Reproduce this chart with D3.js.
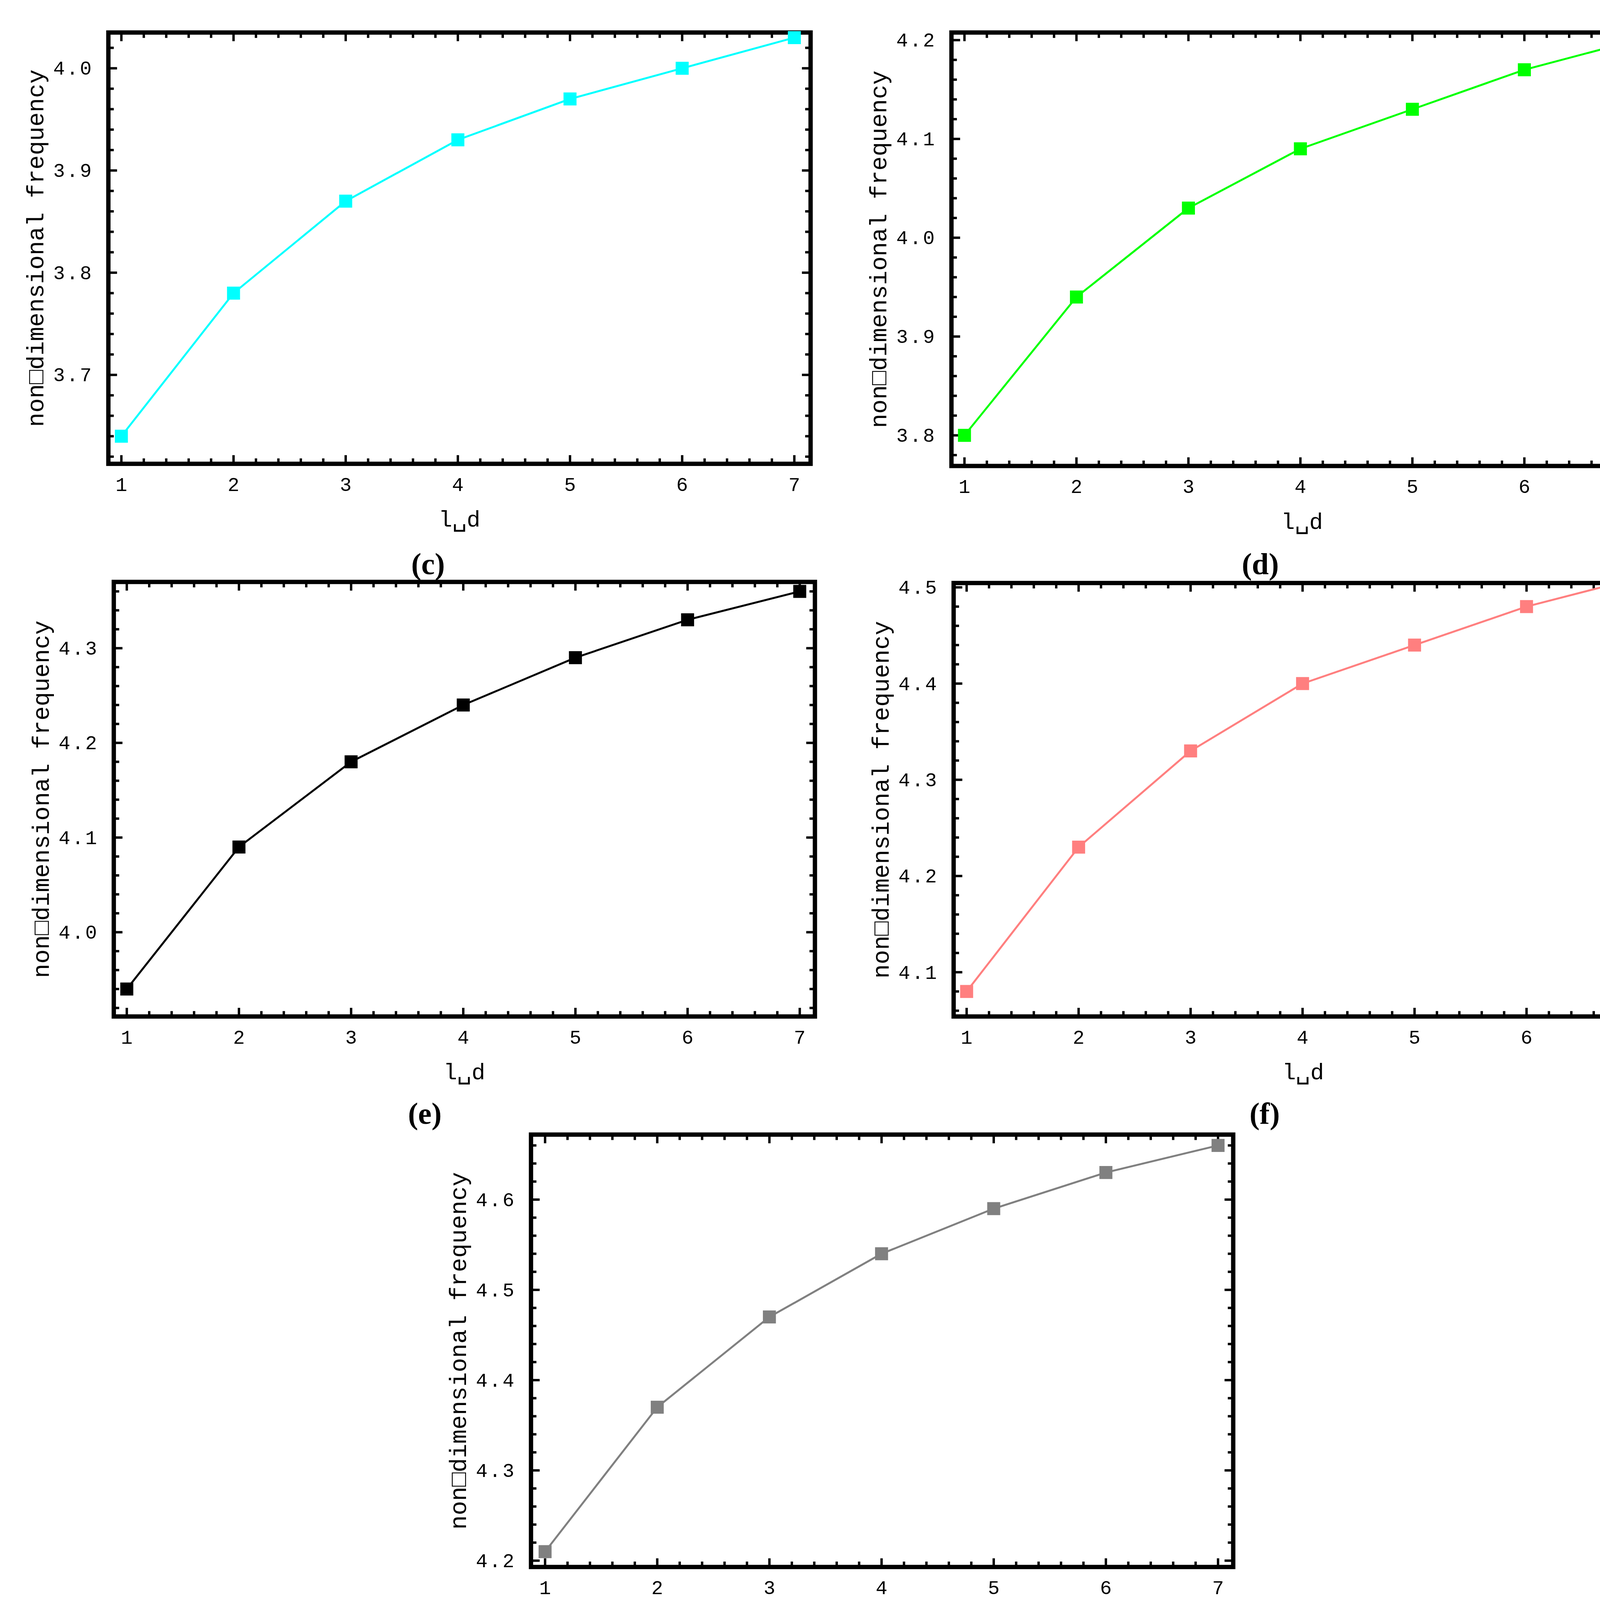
<!DOCTYPE html>
<html><head><meta charset="utf-8">
<script src="https://cdn.jsdelivr.net/npm/d3@7"></script>
<style>body{margin:0;background:#fff}</style></head>
<body><svg id="c" width="4300" height="4345"></svg>
<script>
const xValues = [1,2,3,4,5,6,7];
const seriesC = [3.64,3.78,3.87,3.93,3.97,4.00,4.03];
const seriesD = [3.80,3.94,4.03,4.09,4.13,4.17,4.20];
const seriesE = [3.94,4.09,4.18,4.24,4.29,4.33,4.36];
const seriesF = [4.08,4.23,4.33,4.40,4.44,4.48,4.51];
const seriesG = [4.21,4.37,4.47,4.54,4.59,4.63,4.66];
const panelLabels = ["(c)","(d)","(e)","(f)","(g)"];
const yTicksC = [3.7,3.8,3.9,4.0];
const yTicksD = [3.8,3.9,4.0,4.1,4.2];
const yTicksE = [4.0,4.1,4.2,4.3];
const yTicksF = [4.1,4.2,4.3,4.4,4.5];
const yTicksG = [4.2,4.3,4.4,4.5,4.6];

const S = 4300/1550;
const svg = d3.select("#c");
const panels = [
 {data:seriesC, ticks:yTicksC, color:"#00ffff", box:[100,30,748,428], xr:[112,733], yd:[3.613,4.035], lab:[395,520], label:panelLabels[0]},
 {data:seriesD, ticks:yTicksD, color:"#00ff00", box:[878,30,1525,430], xr:[890,1510], yd:[3.769,4.2077], lab:[1163,520], label:panelLabels[1]},
 {data:seriesE, ticks:yTicksE, color:"#000000", box:[105,537,752,938], xr:[117,738], yd:[3.911,4.370], lab:[392,1027], label:panelLabels[2]},
 {data:seriesF, ticks:yTicksF, color:"#ff7f7f", box:[880,538,1525,938], xr:[892,1512], yd:[4.054,4.5045], lab:[1167,1027], label:panelLabels[3]},
 {data:seriesG, ticks:yTicksG, color:"#808080", box:[490,1047,1138,1446], xr:[503,1124], yd:[4.193,4.672], lab:[778,1540], label:panelLabels[4]},
];
panels.forEach(p=>{
  const [x0,y0,x1,y1] = p.box.map(v=>v*S);
  const x = d3.scaleLinear().domain([1,7]).range(p.xr.map(v=>v*S));
  const y = d3.scaleLinear().domain(p.yd).range([y1,y0]);
  const g = svg.append("g");
  const xMinor = d3.range(0,36).map(i=>+(0.8+i*0.2).toFixed(2)).filter(v=>x(v)>x0+6&&x(v)<x1-6);
  const yMinor = d3.range(Math.ceil(p.yd[0]/0.02), Math.floor(p.yd[1]/0.02)+1).map(i=>+(i*0.02).toFixed(2));
  const isMajX = v=>Math.abs(v-Math.round(v))<1e-6;
  const isMajY = v=>Math.abs(v*10-Math.round(v*10))<1e-6;
  xMinor.forEach(v=>{
    const L = (isMajX(v)?8:5)*S;
    g.append("line").attr("x1",x(v)).attr("x2",x(v)).attr("y1",y1).attr("y2",y1-L).attr("stroke","#000").attr("stroke-width",2.2*S);
    g.append("line").attr("x1",x(v)).attr("x2",x(v)).attr("y1",y0).attr("y2",y0+L).attr("stroke","#000").attr("stroke-width",2.2*S);
  });
  yMinor.filter(v=>y(v)<y1-6&&y(v)>y0+6).forEach(v=>{
    const L = (isMajY(v)?8:5)*S;
    g.append("line").attr("x1",x0).attr("x2",x0+L).attr("y1",y(v)).attr("y2",y(v)).attr("stroke","#000").attr("stroke-width",2.2*S);
    g.append("line").attr("x1",x1).attr("x2",x1-L).attr("y1",y(v)).attr("y2",y(v)).attr("stroke","#000").attr("stroke-width",2.2*S);
  });
  g.append("rect").attr("x",x0).attr("y",y0).attr("width",x1-x0).attr("height",y1-y0)
   .attr("fill","none").attr("stroke","#000").attr("stroke-width",4*S);
  xValues.forEach(v=>g.append("text").attr("x",x(v)).attr("y",y1+25*S).attr("text-anchor","middle")
    .attr("font-family","Liberation Mono").attr("font-size",18*S).text(v));
  p.ticks.forEach(v=>g.append("text").attr("x",x0-14*S).attr("y",y(v)+6*S).attr("text-anchor","end")
    .attr("font-family","Liberation Mono").attr("font-size",18*S).attr("letter-spacing",1.5*S).text(v.toFixed(1)));
  g.append("text").attr("x",(x0+x1)/2).attr("y",y1+58*S).attr("text-anchor","middle")
    .attr("font-family","Liberation Mono").attr("font-size",21*S).text("l\u2423d");
  g.append("text").attr("transform",`translate(${x0-60*S},${(y0+y1)/2}) rotate(-90)`).attr("text-anchor","middle")
    .attr("font-family","Liberation Mono").attr("font-size",22*S).text("non\u25A1dimensional frequency");
  g.append("text").attr("x",p.lab[0]*S).attr("y",p.lab[1]*S+10*S).attr("text-anchor","middle")
    .attr("font-family","Liberation Serif").attr("font-weight","bold").attr("font-size",28*S).text(p.label);
  const line = d3.line().x((d,i)=>x(xValues[i])).y(d=>y(d));
  g.append("path").attr("d",line(p.data)).attr("fill","none").attr("stroke",p.color).attr("stroke-width",1.8*S);
  const m = 12*S;
  g.selectAll(null).data(p.data).join("rect").attr("x",(d,i)=>x(xValues[i])-m/2).attr("y",d=>y(d)-m/2)
    .attr("width",m).attr("height",m).attr("fill",p.color);
});
</script></body></html>
